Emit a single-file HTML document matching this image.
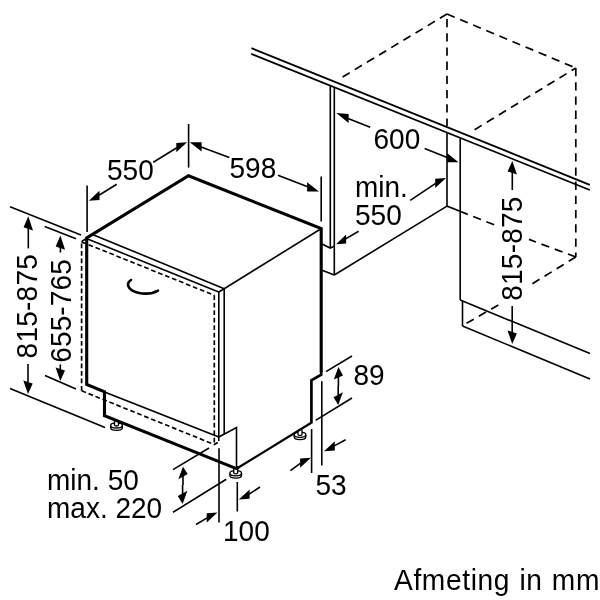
<!DOCTYPE html>
<html lang="nl">
<head>
<meta charset="utf-8">
<title>Afmeting in mm</title>
<style>
html,body{margin:0;padding:0;background:#fff;}
body{width:600px;height:600px;overflow:hidden;}
svg{display:block;will-change:transform;}
text{font-family:"Liberation Sans",Arial,Helvetica,sans-serif;font-size:28px;fill:#000;}
.h{stroke:#000;stroke-width:3.1;fill:none;stroke-linejoin:miter;stroke-linecap:butt;}
.t{stroke:#000;stroke-width:1.6;fill:none;stroke-linecap:butt;}
.d{stroke:#000;stroke-width:1.7;fill:none;stroke-dasharray:8.3 5.9;}
.d2{stroke:#000;stroke-width:1.65;fill:none;stroke-dasharray:4.7 2.8;}
.a{fill:#000;stroke:none;}
</style>
</head>
<body>
<svg width="600" height="600" viewBox="0 0 600 600">
<rect width="600" height="600" fill="#fff"/>

<!-- countertop -->
<g class="t" style="stroke-width:1.8">
<line x1="251.5" y1="48.2" x2="589.8" y2="184.8"/>
<line x1="251.2" y1="53.8" x2="589.8" y2="190"/>
</g>
<!-- dashed niche box -->
<g class="d">
<path d="M447,14 L342.5,77"/>
<path d="M447,14 L575.8,68"/>
<path d="M447,19 L447,126"/>
<path d="M575.8,68 L472.5,131" stroke-dashoffset="3.4"/>
<path d="M575.8,68 L575.8,257"/>
<path d="M460,211.3 L496,225.5"/>
<path d="M575.8,257 L529,239.4"/>
<path d="M462.7,325.5 L498.7,304.8" stroke-dashoffset="-4.4"/>
<path d="M575.8,257 L531.9,284"/>
</g>
<!-- niche solid -->
<g class="t">
<path d="M447,132.5 L447,206.1 L460,211.3"/>
<line x1="460.2" y1="137.8" x2="460.2" y2="300"/>
<line x1="460.2" y1="300" x2="590" y2="353.5"/>
<line x1="462.5" y1="301" x2="462.5" y2="326"/>
<line x1="462.5" y1="326" x2="590" y2="379"/>
<line x1="330.3" y1="85.6" x2="330.3" y2="248"/>
<line x1="334.3" y1="87.2" x2="334.3" y2="275.2"/>
<path d="M322,244 L330.2,248 L334.2,246.2"/>
<line x1="322" y1="270.2" x2="334.3" y2="275"/>
<line x1="334.3" y1="275" x2="447" y2="206.1"/>
</g>

<g stroke="#000" stroke-width="1.35" fill="#fff"><path d="M110.7,425.4 L110.7,427.7 A5.8,2.6 0 0 0 122.3,427.7 L122.3,425.4"/><ellipse cx="116.5" cy="425.4" rx="5.8" ry="2.6"/><path d="M114.5,420.4 L114.5,425.0 A2,1 0 0 0 118.5,425.0 L118.5,420.4"/></g>
<g stroke="#000" stroke-width="1.35" fill="#fff"><path d="M229.9,473.2 L229.9,475.5 A5.8,2.6 0 0 0 241.5,475.5 L241.5,473.2"/><ellipse cx="235.7" cy="473.2" rx="5.8" ry="2.6"/><path d="M233.7,468.2 L233.7,472.8 A2,1 0 0 0 237.7,472.8 L237.7,468.2"/></g>
<g stroke="#000" stroke-width="1.3" fill="#fff"><path d="M294.2,434.8 L294.2,437.1 A5.8,2.6 0 0 0 305.8,437.1 L305.8,434.8"/><ellipse cx="300" cy="434.8" rx="5.8" ry="2.6"/><path d="M298,429.8 L298,434.4 A2,1 0 0 0 302,434.4 L302,429.8"/></g>
<!-- appliance thin lines -->
<g class="t">
<line x1="92.5" y1="234.4" x2="224.2" y2="288.7"/>
<line x1="87" y1="238.8" x2="218.7" y2="292"/>
<line x1="224.2" y1="288.7" x2="319.8" y2="229.5"/>
<line x1="218.4" y1="292.2" x2="224.2" y2="288.7"/>
<line x1="218.8" y1="292" x2="218.8" y2="441"/>
<line x1="219" y1="448.3" x2="219" y2="522.5"/>
<line x1="224.2" y1="288.7" x2="224.2" y2="434.2"/>
<path d="M218.8,437 L236.5,427.5 L236.5,468"/>
<line x1="104.5" y1="392" x2="218.8" y2="437" style="stroke-width:1.8"/>
</g>
<g class="d2">
<path d="M81.6,390.8 L81.6,241.5"/>
<path d="M81.6,241.9 L214.3,295.3"/>
<path d="M214.3,295.3 L214.3,444.5"/>
<path d="M81.6,390.8 L214.3,444.5 L218.7,441.9"/>
<path d="M81.6,241.5 L85.7,239"/>
</g>
<!-- appliance heavy outline -->
<path class="h" style="stroke-width:2.3" d="M236.4,468.8 L311.3,422.8"/>
<path class="h" style="stroke-width:2.7" d="M311.4,423.6 L311.4,380.2 L321.2,374.7 L321.2,371"/>
<path class="h" d="M321.2,372 L321.2,228.6 L188.5,175.8 L86.7,237.9 L86.7,384.5 L104.5,391.8 L104.5,415.6 L236.4,468.6 L238.5,467.3"/>
<!-- handle -->
<path d="M131,280 C126,283 127,290 138,292.7 C146,294.5 153,293.5 158,290.6" fill="none" stroke="#000" stroke-width="2.6" stroke-linecap="round"/>

<g class="t">
<line x1="10" y1="206.8" x2="81" y2="235"/>
<line x1="44.7" y1="226.5" x2="76" y2="238.8"/>
<line x1="10" y1="388.4" x2="105" y2="427.4"/>
<line x1="45" y1="375.6" x2="76" y2="389"/>
<line x1="87.1" y1="185.4" x2="87.1" y2="232"/>
<line x1="188.6" y1="124" x2="188.6" y2="167.6"/>
<line x1="321.2" y1="176.5" x2="321.2" y2="221.5"/>
<line x1="326" y1="371.6" x2="352" y2="356"/>
<line x1="315.6" y1="420.4" x2="352" y2="398"/>
<line x1="321.8" y1="381.2" x2="321.8" y2="465.5"/>
<line x1="311.6" y1="429" x2="311.6" y2="473"/>
<line x1="237.3" y1="482" x2="237.3" y2="511.5"/>
<line x1="173" y1="469.6" x2="209" y2="448"/>
<line x1="173" y1="512.3" x2="226.3" y2="479.3"/>
</g>
<polygon class="a" points="28.3,216.3 23.6,227.2 33.0,230.4"/><line class="t" x1="28.3" y1="227.8" x2="28.3" y2="248.4"/>
<polygon class="a" points="28.0,394.0 23.3,380.4 32.7,383.6"/><line class="t" x1="28.0" y1="383.0" x2="28.0" y2="364.0"/>
<polygon class="a" points="60.4,235.6 55.7,246.5 65.1,249.7"/><line class="t" x1="60.4" y1="247.1" x2="60.4" y2="252.5"/>
<polygon class="a" points="60.3,381.0 55.6,367.4 65.0,370.6"/><line class="t" x1="60.3" y1="370.0" x2="60.3" y2="364.4"/>
<polygon class="a" points="88.8,200.7 99.5,190.7 99.5,199.9"/><line class="t" x1="99.0" y1="195.3" x2="116.7" y2="184.3"/>
<polygon class="a" points="187.1,142.3 176.3,143.1 176.3,152.3"/><line class="t" x1="176.8" y1="147.7" x2="153.3" y2="162.3"/>
<polygon class="a" points="189.7,142.3 201.6,142.3 201.6,151.5"/><line class="t" x1="201.1" y1="146.9" x2="229.3" y2="157.5"/>
<polygon class="a" points="319.0,191.6 307.1,182.2 307.1,191.4"/><line class="t" x1="307.6" y1="186.8" x2="278.0" y2="175.2"/>
<polygon class="a" points="336.3,113.1 348.6,113.9 348.6,123.1"/><line class="t" x1="348.1" y1="118.5" x2="370.2" y2="127.3"/>
<polygon class="a" points="458.5,162.3 447.3,153.3 447.3,162.3"/><line class="t" x1="447.8" y1="157.8" x2="424.6" y2="148.6"/>
<polygon class="a" points="336.1,244.3 346.1,234.4 346.1,243.4"/><line class="t" x1="345.6" y1="238.9" x2="358.6" y2="231.3"/>
<polygon class="a" points="446.0,178.0 435.2,178.8 435.2,188.0"/><line class="t" x1="435.7" y1="183.4" x2="410.2" y2="200.3"/>
<polygon class="a" points="512.3,161.0 507.6,171.4 517.0,174.6"/><line class="t" x1="512.3" y1="172.0" x2="512.3" y2="190.0"/>
<polygon class="a" points="512.2,344.0 507.5,330.4 516.9,333.6"/><line class="t" x1="512.2" y1="333.0" x2="512.2" y2="306.0"/>
<polygon class="a" points="338.4,367.0 333.8,379.6 343.0,375.4"/><line class="t" x1="338.4" y1="376.5" x2="338.4" y2="386.0"/>
<polygon class="a" points="338.2,405.0 333.5,397.2 342.9,392.2"/><line class="t" x1="338.2" y1="395.7" x2="338.2" y2="386.0"/>
<polygon class="a" points="324.0,451.3 334.8,441.3 334.8,450.5"/><line class="t" x1="334.3" y1="445.9" x2="345.6" y2="439.7"/>
<polygon class="a" points="310.9,457.7 300.1,458.5 300.1,467.7"/><line class="t" x1="300.6" y1="463.1" x2="290.4" y2="470.7"/>
<polygon class="a" points="238.8,499.6 249.6,489.6 249.6,498.8"/><line class="t" x1="249.1" y1="494.2" x2="260.0" y2="487.0"/>
<polygon class="a" points="217.5,512.5 206.7,513.3 206.7,522.5"/><line class="t" x1="207.2" y1="517.9" x2="196.0" y2="524.5"/>
<polygon class="a" points="183.0,466.7 178.3,479.3 187.7,474.1"/><line class="t" x1="183.0" y1="475.7" x2="183.0" y2="485.0"/>
<polygon class="a" points="182.6,504.0 177.8,496.0 187.4,490.8"/><line class="t" x1="182.6" y1="494.4" x2="182.6" y2="485.0"/>
<!-- text -->
<text transform="translate(107,180.4) scale(1,1.035)">550</text>
<text transform="translate(229.5,178) scale(1,1.035)">598</text>
<text transform="translate(373.5,149.2) scale(1,1.035)">600</text>
<text transform="translate(355,197) scale(1,1.035)">min.</text>
<text transform="translate(355,224.9) scale(1,1.035)">550</text>
<text transform="translate(353.4,385.2) scale(1,1.035)">89</text>
<text transform="translate(315.5,495) scale(1,1.035)">53</text>
<text transform="translate(223,541.2) scale(1,1.035)">100</text>
<text transform="translate(47,490) scale(1,1.035)">min. 50</text>
<text transform="translate(47,517.8) scale(1,1.035)">max. 220</text>
<text transform="translate(394,589.7) scale(1,1.035)" style="font-size:28.2px;letter-spacing:0.6px;word-spacing:0.9px">Afmeting in mm</text>
<text transform="translate(37,358.4) rotate(-90) scale(1,1.035)" style="letter-spacing:0.25px">815-875</text>
<text transform="translate(70.7,362.8) rotate(-90) scale(1,1.035)" style="letter-spacing:0.15px">655-765</text>
<text transform="translate(521.5,300.8) rotate(-90) scale(1,1.035)" style="letter-spacing:0.25px">815-875</text>
</svg>
</body>
</html>
